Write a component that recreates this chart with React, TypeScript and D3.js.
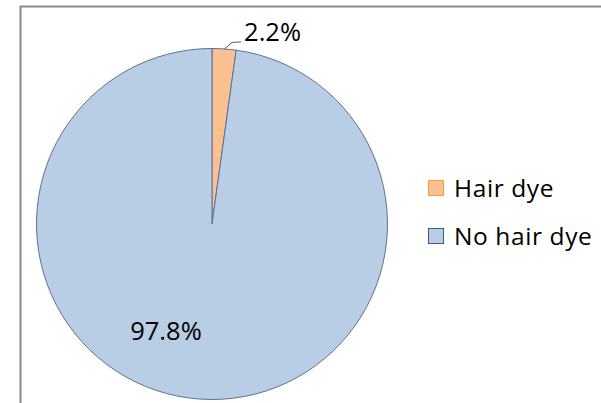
import React from "react";
import * as d3 from "d3";

const categories = ["Hair dye", "No hair dye"];
const values = [2.2, 97.8];
const labels = ["2.2%", "97.8%"];
const fills = ["#FAC090", "#B9CDE5"];
const legendStrokes = ["#F79646", "#385D8A"];

const W = 601;
const H = 403;
const cx = 212;
const cy = 224;
const R = 175.5;

export default function App() {
  const pie = d3.pie<number>().sort(null).value((d) => d);
  const arcs = pie(values);
  const arc = d3.arc<d3.PieArcDatum<number>>().innerRadius(0).outerRadius(R);
  const font = "'Open Sans', sans-serif";

  // leader line for small slice
  const small = arcs[0];
  const midA = (small.startAngle + small.endAngle) / 2;
  const p0 = [Math.sin(midA) * (R - 0.5), -Math.cos(midA) * (R - 0.5)];
  const p1 = [p0[0] + 8, p0[1] - 7];
  const p2 = [p1[0] + 9, p1[1] - 0.5];

  const big = arcs[1];
  const bigC = arc.centroid(big);

  return (
    <svg width={W} height={H} style={{ position: "absolute", left: 0, top: 0 }}>
      <rect x={0} y={0} width={W} height={H} fill="#fff" />
      <path d={`M${W + 5},6.5 H20.5 V${H + 5}`} fill="none" stroke="#898989" strokeWidth={2} />
      <g transform={`translate(${cx},${cy})`}>
        {arcs.map((a, i) => (
          <path key={categories[i]} d={arc(a) || ""} fill={fills[i]} stroke="#5A7394" strokeWidth={1} />
        ))}
        <polyline
          points={[p0, p1, p2].map((p) => p.join(",")).join(" ")}
          fill="none"
          stroke="#595959"
          strokeWidth={1}
        />
        <text x={p2[0] + 3} y={p2[1] - 1} fontFamily={font} fontSize={25.5} fill="#000">
          {labels[0]}
        </text>
        <text
          x={bigC[0] - 40}
          y={bigC[1] + 28}
          fontFamily={font}
          fontSize={25.5}
          fill="#000"
          textAnchor="middle"
        >
          {labels[1]}
        </text>
      </g>
      <g transform="translate(428,180)">
        {categories.map((c, i) => (
          <g key={c} transform={`translate(0,${i * 48})`}>
            <rect x={0.5} y={0.5} width={15} height={15} fill={fills[i]} stroke={legendStrokes[i]} strokeWidth={1} />
            <text x={26} y={16.5} fontFamily={font} fontSize={24.5} letterSpacing={0.6} fill="#000">
              {c}
            </text>
          </g>
        ))}
      </g>
    </svg>
  );
}
